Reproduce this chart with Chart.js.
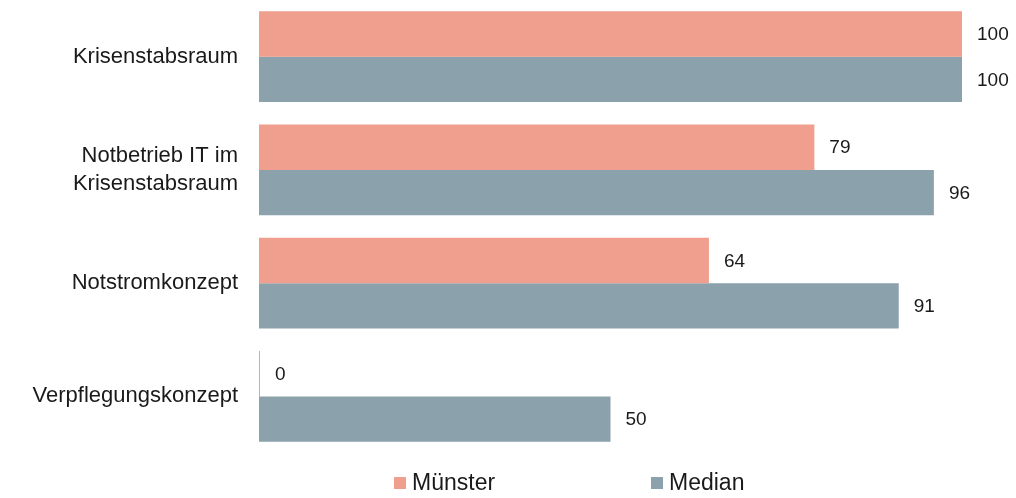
<!DOCTYPE html>
<html>
<head>
<meta charset="utf-8">
<style>
  html, body { margin: 0; padding: 0; background: #fff; }
  #wrap { width: 1016px; height: 498px; position: relative; }
</style>
</head>
<body>
<div id="wrap"><canvas id="barChart"></canvas></div>
<script src="https://cdn.jsdelivr.net/npm/chart.js"></script>
<script>
const categories = ["Krisenstabsraum", ["Notbetrieb IT im", "Krisenstabsraum"], "Notstromkonzept", "Verpflegungskonzept"];
const muensterValues = [100, 79, 64, 0];
const medianValues = [100, 96, 91, 50];
const seriesNames = ["Münster", "Median"];
const seriesColors = ["#F09E8D", "#8BA1AC"];

const FONT = "'Liberation Sans', Arial, sans-serif";

// value labels to the right of each bar
const valueLabels = {
  id: "valueLabels",
  afterDatasetsDraw(chart) {
    const ctx = chart.ctx;
    ctx.save();
    ctx.font = "19px " + FONT;
    ctx.fillStyle = "#1a1a1a";
    ctx.textAlign = "left";
    ctx.textBaseline = "middle";
    chart.data.datasets.forEach((ds, i) => {
      chart.getDatasetMeta(i).data.forEach((bar, j) => {
        ctx.fillText(String(ds.data[j]), Math.max(bar.x, bar.base) + 15, bar.y + 1);
      });
    });
    ctx.restore();
  }
};

// legend under the plot, spaced like the original
const bottomLegend = {
  id: "bottomLegend",
  afterDraw(chart) {
    const ctx = chart.ctx;
    const area = chart.chartArea;
    const y = area.bottom + 30;
    const starts = [area.left + 135, area.left + 392];
    ctx.save();
    ctx.font = "23px " + FONT;
    ctx.textBaseline = "middle";
    ctx.textAlign = "left";
    chart.data.datasets.forEach((ds, i) => {
      ctx.fillStyle = ds.backgroundColor;
      ctx.fillRect(starts[i], y - 6, 12, 12);
      ctx.fillStyle = "#1a1a1a";
      ctx.fillText(ds.label, starts[i] + 18, y + 1);
    });
    ctx.restore();
  }
};

const ctx = document.getElementById("barChart").getContext("2d");
new Chart(ctx, {
  type: "bar",
  data: {
    labels: categories,
    datasets: [
      {
        label: seriesNames[0],
        data: muensterValues,
        backgroundColor: seriesColors[0],
        minBarLength: 1,
        categoryPercentage: 0.8,
        barPercentage: 1.0
      },
      {
        label: seriesNames[1],
        data: medianValues,
        backgroundColor: seriesColors[1],
        categoryPercentage: 0.8,
        barPercentage: 1.0
      }
    ]
  },
  options: {
    indexAxis: "y",
    responsive: true,
    maintainAspectRatio: false,
    animation: false,
    layout: { padding: { left: 0, right: 54, top: 0, bottom: 45 } },
    plugins: {
      legend: { display: false },
      tooltip: { enabled: false }
    },
    scales: {
      x: { min: 0, max: 100, display: false },
      y: {
        grid: { display: false, drawTicks: false },
        border: { display: false },
        ticks: {
          padding: 21,
          color: "#1a1a1a",
          font: { family: FONT, size: 22, lineHeight: 1.25 }
        },
        afterFit(scale) {
          scale.width = 259;
          scale.paddingTop = 0;
          scale.paddingBottom = 0;
        }
      }
    }
  },
  plugins: [valueLabels, bottomLegend]
});
</script>
</body>
</html>
